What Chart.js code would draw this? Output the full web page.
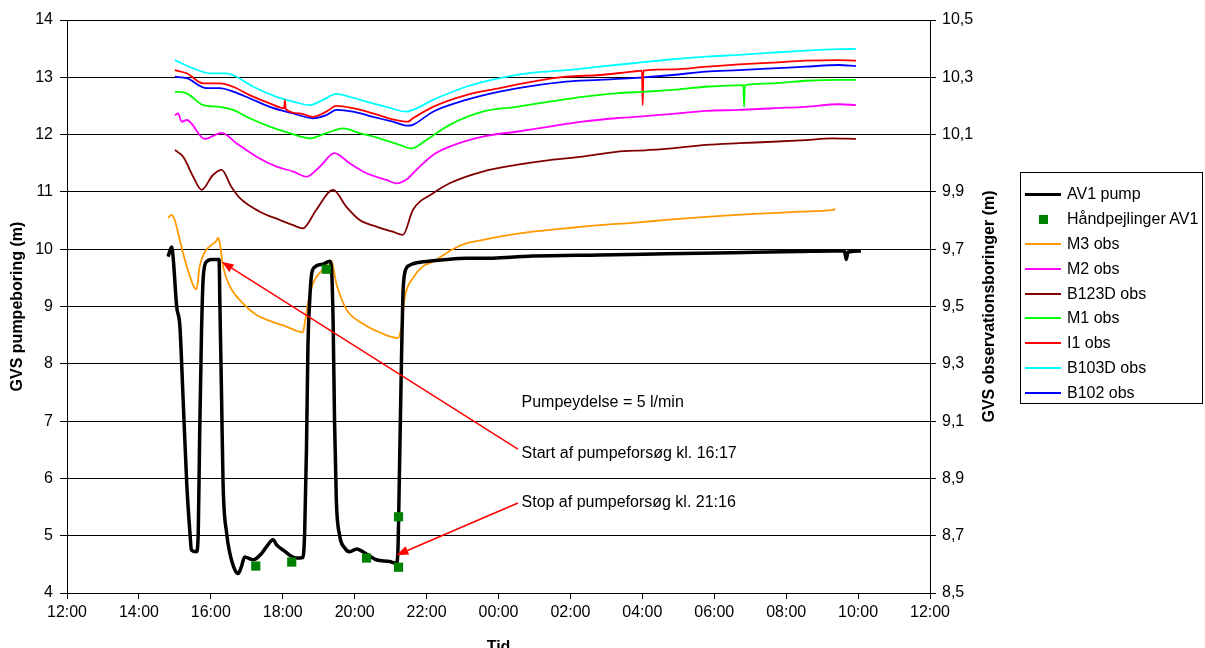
<!DOCTYPE html>
<html>
<head>
<meta charset="utf-8">
<title>Pumpeforsøg AV1</title>
<script src="https://cdn.jsdelivr.net/npm/chart.js@4.4.1/dist/chart.umd.min.js"></script>
<style>
  html, body { margin: 0; padding: 0; background: #fff; overflow: hidden; }
  #wrap { position: relative; width: 1205px; height: 648px; overflow: hidden; }
  #legend {
    position: absolute; left: 1020px; top: 172px; width: 183px; height: 232px;
    border: 1px solid #000; box-sizing: border-box; padding-top: 9px;
    font: 16px "Liberation Sans", Arial, sans-serif; color: #000;
  }
  .row { display: flex; align-items: center; height: 24.8px; }
  .swatch { width: 36px; margin-left: 4px; margin-right: 6px; display: flex; align-items: center; justify-content: center; }
</style>
</head>
<body>
<div id="wrap">
  <canvas id="chart" width="1205" height="660"></canvas>
  <div id="legend"></div>
</div>
<script>
// tid i timer regnet fra kl. 12:00 dag 1 (24 = 00:00, 36 = 12:00 næste dag)

// AV1 pump (venstre akse, m)
const av1Time = [14.81,14.91,14.95,15.05,15.14,15.23,15.33,15.42,15.46,15.60,15.65,15.69,15.74,15.79,15.88,16.02,16.23,16.25,16.30,16.34,16.44,16.53,16.67,16.76,16.85,16.94,17.18,17.41,17.55,17.73,17.83,18.01,18.38,18.56,18.61,18.66,18.70,18.75,18.80,18.89,19.12,19.31,19.35,19.40,19.44,19.49,19.58,19.72,19.86,20.06,20.23,20.60,20.97,21.16,21.20,21.25,21.30,21.34,21.39,21.53,21.90,22.55,23.10,23.47,24.94,26.81,28.66,30.51,32.36,33.28,33.62,33.67,33.72,34.08];
const av1Level = [9.87,10.04,9.87,9.00,8.65,7.37,5.91,5.04,4.75,4.72,5.04,6.79,8.53,9.52,9.78,9.82,9.82,9.11,7.37,5.91,5.04,4.69,4.40,4.34,4.46,4.63,4.58,4.69,4.81,4.93,4.84,4.75,4.61,4.62,5.07,6.53,8.28,9.11,9.55,9.69,9.74,9.79,9.71,8.76,7.02,5.62,5.01,4.79,4.72,4.77,4.72,4.58,4.55,4.52,4.70,6.27,8.01,9.17,9.58,9.72,9.78,9.82,9.84,9.84,9.88,9.90,9.92,9.94,9.96,9.97,9.97,9.82,9.95,9.97];

// Håndpejlinger AV1
const hpTime = [17.25, 18.25, 19.21, 20.33, 21.22, 21.22];
const hpLevel = [4.47, 4.54, 9.65, 4.61, 5.33, 4.45];

// observationsboringer (højre akse, m)
const m3Time = [14.81,14.91,15.00,15.14,15.33,15.60,15.69,15.83,15.97,16.16,16.20,16.25,16.34,16.53,16.90,17.27,17.64,18.10,18.56,18.61,18.70,18.84,19.12,19.35,19.49,19.77,20.23,20.69,21.20,21.30,21.39,21.62,21.90,22.18,22.73,23.10,23.47,24.03,24.95,25.88,26.81,27.73,28.66,29.58,30.51,31.44,32.36,33.29,33.37];
const m3Level = [9.81,9.82,9.80,9.73,9.64,9.56,9.64,9.69,9.71,9.73,9.74,9.72,9.64,9.57,9.51,9.47,9.45,9.43,9.41,9.44,9.51,9.58,9.63,9.66,9.58,9.49,9.44,9.41,9.39,9.43,9.53,9.60,9.64,9.656,9.70,9.72,9.73,9.744,9.761,9.773,9.784,9.792,9.802,9.811,9.819,9.825,9.831,9.837,9.84];

const m2Time = [15.00,15.09,15.19,15.33,15.83,16.30,16.71,17.27,17.83,18.29,18.66,19.03,19.44,19.86,20.33,20.88,21.16,21.48,21.71,22.18,22.64,23.56,24.49,25.42,26.34,27.27,28.15,28.84,29.77,30.69,31.62,32.54,33.47,33.94];
const m2Level = [10.168,10.174,10.145,10.151,10.085,10.106,10.070,10.023,9.988,9.971,9.953,9.988,10.035,10.000,9.965,9.942,9.930,9.947,9.976,10.029,10.058,10.093,10.110,10.128,10.145,10.157,10.165,10.172,10.183,10.186,10.192,10.197,10.206,10.203];

const b123Time = [15.00,15.23,15.51,15.74,16.06,16.30,16.57,16.81,17.36,17.92,18.29,18.56,18.93,19.40,19.77,20.14,20.60,21.06,21.34,21.62,22.18,22.64,23.56,24.49,25.42,26.34,27.27,28.15,28.84,29.77,30.69,31.62,32.54,33.29,33.94];
const b123Level = [10.046,10.023,9.953,9.907,9.959,9.977,9.918,9.878,9.831,9.802,9.784,9.773,9.837,9.907,9.848,9.802,9.779,9.761,9.750,9.837,9.895,9.930,9.971,9.994,10.011,10.023,10.040,10.046,10.052,10.064,10.070,10.075,10.081,10.087,10.085];

const m1Time = [15.00,15.33,15.79,16.25,16.62,17.08,17.64,18.19,18.75,19.21,19.68,20.14,20.69,21.25,21.58,21.99,22.64,23.56,24.49,25.42,26.34,27.27,28.10,28.84,29.77,30.81,30.83,30.85,31.62,32.54,33.47,33.94];
const m1Level = [10.250,10.244,10.203,10.197,10.186,10.157,10.128,10.105,10.087,10.105,10.122,10.105,10.087,10.064,10.052,10.081,10.134,10.180,10.197,10.215,10.232,10.244,10.250,10.256,10.267,10.273,10.197,10.273,10.279,10.288,10.291,10.291];

const i1Time = [15.00,15.33,15.79,16.25,16.62,17.08,17.64,18.04,18.06,18.08,18.47,18.84,19.21,19.49,19.95,20.51,21.06,21.48,21.62,22.18,23.10,24.03,24.95,25.88,26.81,27.73,27.99,28.01,28.03,28.84,29.77,30.69,31.62,32.54,33.47,33.94];
const i1Level = [10.325,10.314,10.279,10.279,10.267,10.238,10.209,10.192,10.220,10.190,10.174,10.162,10.180,10.200,10.192,10.174,10.153,10.145,10.157,10.197,10.238,10.262,10.285,10.302,10.308,10.320,10.323,10.203,10.323,10.328,10.337,10.345,10.351,10.358,10.360,10.358];

const b103Time = [15.00,15.51,15.97,16.44,16.71,17.18,17.83,18.29,18.75,19.12,19.49,19.86,20.33,20.88,21.44,21.62,22.18,23.10,24.03,24.95,25.88,26.81,27.73,28.84,29.77,30.69,31.62,32.54,33.47,33.94];
const b103Level = [10.360,10.331,10.314,10.314,10.302,10.267,10.232,10.215,10.203,10.221,10.242,10.232,10.215,10.197,10.180,10.186,10.221,10.267,10.297,10.316,10.325,10.337,10.349,10.363,10.372,10.378,10.386,10.393,10.398,10.399];

const b102Time = [15.00,15.33,15.88,16.25,16.62,17.08,17.64,18.29,18.84,19.21,19.49,19.95,20.51,21.06,21.48,21.62,22.18,23.10,24.03,24.95,25.88,26.81,27.73,28.84,29.77,30.69,31.62,32.54,33.47,33.94];
const b102Level = [10.302,10.297,10.262,10.262,10.250,10.227,10.197,10.174,10.157,10.168,10.186,10.180,10.162,10.145,10.131,10.134,10.180,10.221,10.250,10.270,10.285,10.291,10.297,10.308,10.320,10.325,10.331,10.337,10.343,10.339];

// tekster og pile (venstre akse)
const noteText = ['Pumpeydelse = 5 l/min', 'Start af pumpeforsøg kl. 16:17', 'Stop af pumpeforsøg kl. 21:16'];
const noteTime = [24.64, 24.64, 24.64];
const noteLevel = [7.33, 6.44, 5.57];
const arrowFromTime = [24.54, 24.54];
const arrowFromLevel = [6.51, 5.57];
const arrowToTime = [16.30, 21.16];
const arrowToLevel = [9.78, 4.66];

const FONT = '"Liberation Sans", Arial, Helvetica, sans-serif';
Chart.defaults.font.family = FONT;
Chart.defaults.font.size = 16;
Chart.defaults.color = '#000';

function pts(t, v) {
    return t.map((x, i) => ({ x: x, y: v[i] }));
}

function obs(label, t, v, color) {
    return {
        label: label,
        data: pts(t, v),
        yAxisID: 'y1',
        borderColor: color,
        backgroundColor: color,
        borderWidth: 1.8,
        pointRadius: 0,
        cubicInterpolationMode: 'monotone',
        order: 2
    };
}

const datasets = [
    {
        label: 'AV1 pump',
        data: pts(av1Time, av1Level),
        yAxisID: 'y',
        borderColor: '#000',
        backgroundColor: '#000',
        borderWidth: 3.5,
        pointRadius: 0,
        cubicInterpolationMode: 'monotone',
        order: 1
    },
    {
        label: 'Håndpejlinger AV1',
        data: pts(hpTime, hpLevel),
        yAxisID: 'y',
        showLine: false,
        pointStyle: 'rect',
        pointRadius: 6.5,
        borderWidth: 0,
        backgroundColor: '#008000',
        borderColor: '#008000',
        order: 0
    },
    obs('M3 obs', m3Time, m3Level, '#FF9900'),
    obs('M2 obs', m2Time, m2Level, '#FF00FF'),
    obs('B123D obs', b123Time, b123Level, '#800000'),
    obs('M1 obs', m1Time, m1Level, '#00FF00'),
    obs('I1 obs', i1Time, i1Level, '#FF0000'),
    obs('B103D obs', b103Time, b103Level, '#00FFFF'),
    obs('B102 obs', b102Time, b102Level, '#0000FF')
];

// pile, tekster og højre aksetitel
const notesPlugin = {
    id: 'notes',
    afterDatasetsDraw(chart) {
        const { ctx, scales } = chart;
        const x = scales.x, y = scales.y;
        ctx.save();
        ctx.strokeStyle = '#FF0000';
        ctx.fillStyle = '#FF0000';
        ctx.lineWidth = 1.5;
        for (let i = 0; i < arrowFromTime.length; i++) {
            const x0 = x.getPixelForValue(arrowFromTime[i]);
            const y0 = y.getPixelForValue(arrowFromLevel[i]);
            const x1 = x.getPixelForValue(arrowToTime[i]);
            const y1 = y.getPixelForValue(arrowToLevel[i]);
            const a = Math.atan2(y1 - y0, x1 - x0);
            const len = 12, half = 4.5;
            const bx = x1 - len * Math.cos(a), by = y1 - len * Math.sin(a);
            ctx.beginPath();
            ctx.moveTo(x0, y0);
            ctx.lineTo(bx, by);
            ctx.stroke();
            ctx.beginPath();
            ctx.moveTo(x1, y1);
            ctx.lineTo(bx + half * Math.sin(a), by - half * Math.cos(a));
            ctx.lineTo(bx - half * Math.sin(a), by + half * Math.cos(a));
            ctx.closePath();
            ctx.fill();
        }
        ctx.fillStyle = '#000';
        ctx.font = '16px ' + FONT;
        ctx.textAlign = 'left';
        ctx.textBaseline = 'middle';
        noteText.forEach((t, i) => {
            ctx.fillText(t, x.getPixelForValue(noteTime[i]), y.getPixelForValue(noteLevel[i]));
        });
        ctx.restore();
    },
    afterDraw(chart) {
        const { ctx, chartArea } = chart;
        const r = chart.scales.y1;
        ctx.save();
        ctx.translate(r.right - 14, (chartArea.top + chartArea.bottom) / 2);
        ctx.rotate(-Math.PI / 2);
        ctx.font = 'bold 16px ' + FONT;
        ctx.fillStyle = '#000';
        ctx.textAlign = 'center';
        ctx.textBaseline = 'middle';
        ctx.fillText('GVS observationsboringer (m)', 0, 0);
        ctx.restore();
    }
};

const chart = new Chart(document.getElementById('chart'), {
    type: 'line',
    data: { datasets: datasets },
    options: {
        responsive: false,
        animation: false,
        devicePixelRatio: 1,
        layout: { padding: { top: 20, right: 201, left: 0, bottom: 0 } },
        plugins: {
            legend: { display: false },
            tooltip: { enabled: false }
        },
        scales: {
            x: {
                type: 'linear',
                position: 'bottom',
                min: 12,
                max: 36,
                ticks: {
                    stepSize: 2,
                    autoSkip: false,
                    maxRotation: 0,
                    padding: 4,
                    callback: v => String(v % 24).padStart(2, '0') + ':00'
                },
                grid: { drawOnChartArea: false, tickLength: 6, color: '#000' },
                border: { color: '#000', width: 1 },
                title: { display: true, text: 'Tid', font: { size: 16, weight: 'bold' }, padding: { top: 0, bottom: 3 } },
                afterFit: s => { s.height = 67; }
            },
            y: {
                position: 'left',
                min: 4,
                max: 14,
                ticks: { stepSize: 1, padding: 7 },
                grid: { color: '#000', tickLength: 7 },
                border: { color: '#000', width: 1 },
                title: { display: true, text: 'GVS pumpeboring (m)', font: { size: 16, weight: 'bold' }, padding: { top: 8, bottom: 0 } },
                afterFit: s => { s.width = 67; }
            },
            y1: {
                position: 'right',
                min: 8.5,
                max: 10.5,
                ticks: { stepSize: 0.2, padding: 6, callback: v => v.toFixed(1).replace('.', ',') },
                grid: { drawOnChartArea: false, tickLength: 6, color: '#000' },
                border: { color: '#000', width: 1 },
                afterFit: s => { s.width = 74; }
            }
        }
    },
    plugins: [notesPlugin]
});

// legende (samme rækkefølge som serierne)
function renderLegend() {
    const box = document.getElementById('legend');
    box.innerHTML = '';
    chart.data.datasets.forEach(ds => {
        const row = document.createElement('div');
        row.className = 'row';
        const sw = document.createElement('span');
        sw.className = 'swatch';
        if (ds.showLine === false) {
            sw.innerHTML = `<span style="display:block;width:9px;height:9px;background:${ds.backgroundColor}"></span>`;
        } else {
            sw.innerHTML = `<span style="display:block;width:36px;height:${ds.borderWidth > 2 ? 3 : 2}px;background:${ds.borderColor}"></span>`;
        }
        const txt = document.createElement('span');
        txt.textContent = ds.label;
        row.appendChild(sw);
        row.appendChild(txt);
        box.appendChild(row);
    });
}
renderLegend();
</script>
</body>
</html>
